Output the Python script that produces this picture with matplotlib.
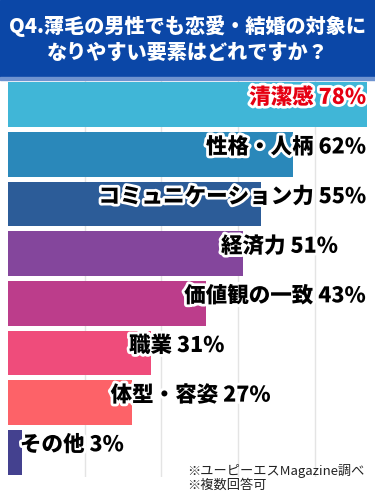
import matplotlib
matplotlib.use("Agg")
import matplotlib.pyplot as plt
import matplotlib.patheffects as pe
from matplotlib.patches import Rectangle

plt.rcParams['font.family'] = ['Noto Sans CJK JP', 'DejaVu Sans']

labels = ["清潔感", "性格・人柄", "コミュニケーション力", "経済力",
          "価値観の一致", "職業", "体型・容姿", "その他"]
values = [78, 62, 55, 51, 43, 31, 27, 3]
colors = ["#40b6d7", "#2a88ba", "#2c5c98", "#84469c",
          "#bc3d8b", "#ef4c7b", "#fd6268", "#44418f"]
title = "Q4.薄毛の男性でも恋愛・結婚の対象に\nなりやすい要素はどれですか？"
notes = "※ユーピーエスMagazine調べ\n※複数回答可"

W, H = 375, 500
fig = plt.figure(figsize=(W / 100, H / 100), dpi=100)

# title band
fig.patches.append(Rectangle((0, 1 - 77 / H), 1, 77 / H, transform=fig.transFigure,
                             color="#0b47a7", zorder=0))
fig.patches.append(Rectangle((0, 1 - 80 / H), 1, 3 / H, transform=fig.transFigure,
                             color="#6f93d0", zorder=0))
fig.text(0.5, 1 - 39 / H, title, ha="center", va="center", color="white",
         fontsize=14.5, fontweight="heavy", linespacing=1.35)

ax = fig.add_axes([8 / W, (H - 477) / H, 367 / W, 397 / H])
ax.set_xlim(0, 367 / 4.6)
ax.set_ylim(len(values) - 0.5, -0.5)
for gx in [100 / 6 * k for k in range(1, 5)]:
    ax.axvline(gx, color="#e4e4e4", lw=1, zorder=0)

y = list(range(len(values)))
ax.barh(y, values, height=0.9, color=colors, zorder=2)

stroke = [pe.withStroke(linewidth=4, foreground="white")]
for i, (lab, v) in enumerate(zip(labels, values)):
    txt = f"{lab} {v}%"
    col = "#e60012" if i == 0 else "black"
    if i < 3:
        x, ha = 77.8, "right"
    else:
        x, ha = max(v - 4.7, 2.6), "left"
    ax.text(x, i - 0.15, txt, ha=ha, va="center", fontsize=15.5,
            fontweight="heavy", color=col, path_effects=stroke, zorder=3)

ax.axis("off")

fig.text(187 / W, 1 - 478 / H, notes, ha="left", va="center", fontsize=9.5,
         color="#222222", linespacing=1.15)

fig.savefig("out.png", dpi=100)
